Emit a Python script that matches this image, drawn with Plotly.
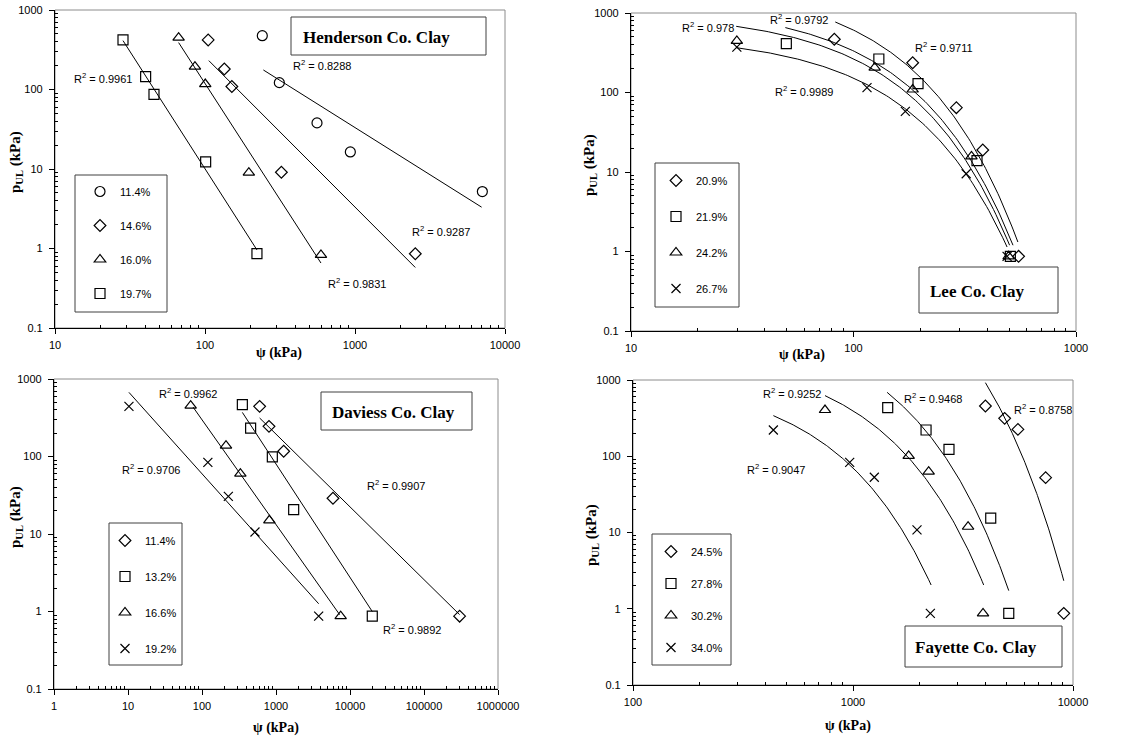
import numpy as np
import plotly.graph_objects as go

W, H = 1147, 740

# ---------------- data ----------------
# Henderson Co. Clay (power fits)
hen_labels = ["11.4%", "14.6%", "16.0%", "19.7%"]
hen_x = [[241, 313, 558, 931, 7063],
         [105, 134.5, 151, 323, 2523],
         [66.7, 85.7, 100.4, 196, 593],
         [28.4, 40.2, 45.7, 101, 222]]
hen_y = [[475, 122, 38, 16.4, 5.2],
         [420, 181, 109, 9.1, 0.86],
         [449, 194, 117, 9.0, 0.83],
         [420, 145, 87, 12.3, 0.86]]
hen_fit_a = [1.2e5, 1.553e6, 8.32e7, 7.93e6]
hen_fit_b = [-1.186, -1.890, -2.922, -2.948]
hen_fit_xmin = [245, 106, 66.7, 28.4]
hen_fit_xmax = [6985, 2523, 593, 222]
hen_r2 = ["0.8288", "0.9287", "0.9831", "0.9961"]

# Lee Co. Clay (exponential fits)
lee_labels = ["20.9%", "21.9%", "24.2%", "26.7%"]
lee_x = [[82, 184.5, 290, 381, 552],
         [49.9, 130, 195, 359, 507],
         [29.9, 124.5, 184.5, 339, 498],
         [29.9, 115, 171, 321, 490]]
lee_y = [[467, 237, 64.4, 18.9, 0.87],
         [411, 264, 129, 13.9, 0.87],
         [445, 205, 109, 15.7, 0.87],
         [373, 115, 58, 9.5, 0.87]]
lee_fit_a = [2398, 1268, 1012, 532]
lee_fit_b = [-0.0137, -0.013365, -0.013395, -0.012544]
lee_fit_xmin = [82.8, 49.4, 29.7, 29.7]
lee_fit_xmax = [548, 521, 503, 490]
lee_r2 = ["0.9711", "0.9792", "0.978", "0.9989"]

# Daviess Co. Clay (power fits)
dav_labels = ["11.4%", "13.2%", "16.6%", "19.2%"]
dav_x = [[601, 804, 1270, 5888, 303000],
         [351, 454, 892, 1733, 20000],
         [70.3, 211, 330, 813, 7480],
         [10.3, 120, 227, 520, 3773]]
dav_y = [[444, 245, 117, 28.9, 0.87],
         [467, 233, 98.6, 20.6, 0.87],
         [453, 138, 60, 15, 0.87],
         [444, 84, 30.6, 10.6, 0.87]]
dav_fit_a = [1.277e5, 1.968e6, 1.507e5, 8035]
dav_fit_b = [-0.939, -1.4635, -1.352, -1.0638]
dav_fit_xmin = [601, 351, 75.6, 10.3]
dav_fit_xmax = [303000, 20000, 7250, 3773]
dav_r2 = ["0.9907", "0.9892", "0.9962", "0.9706"]

# Fayette Co. Clay (exponential fits)
fay_labels = ["24.5%", "27.8%", "30.2%", "34.0%"]
fay_x = [[3998, 4890, 5620, 7510, 9080],
         [1438, 2148, 2731, 4227, 5105],
         [746, 1791, 2208, 3335, 3900],
         [434.5, 966, 1250, 1954, 2247]]
fay_y = [[456, 314, 225, 52.4, 0.87],
         [434, 221, 123, 15.4, 0.87],
         [404, 101, 62.8, 11.9, 0.87],
         [221, 83, 53, 10.8, 0.87]]
fay_fit_a = [102000, 7065, 2386, 1148]
fay_fit_b = [-0.001177, -0.001629, -0.001798, -0.002794]
fay_fit_xmin = [3998, 1429, 746, 434.5]
fay_fit_xmax = [9080, 5105, 3926, 2265]
fay_r2 = ["0.8758", "0.9468", "0.9252", "0.9047"]

y_tickvals = [0.1, 1, 10, 100, 1000]
y_ticktext = ["0.1", "1", "10", "100", "1000"]
hen_xticks = [10, 100, 1000, 10000]
lee_xticks = [10, 100, 1000]
dav_xticks = [1, 10, 100, 1000, 10000, 100000, 1000000]
fay_xticks = [100, 1000, 10000]

# ---------------- styling ----------------
SANS = "Liberation Sans"
SERIF = "Liberation Serif"
sym_cdtx = ["circle-open", "diamond-open", "triangle-up-open", "square-open"]
sym_dstx = ["diamond-open", "square-open", "triangle-up-open", "x-thin-open"]
sizes = {"circle-open": 10, "diamond-open": 9, "triangle-up-open": 10,
         "square-open": 10, "x-thin-open": 9}

# panel pixel boxes: left, right, top, bottom
panels = [
    dict(px=(55, 505, 10, 328), xr=[1, 4], xt=hen_xticks,
         X=hen_x, Y=hen_y, labels=hen_labels, syms=sym_cdtx, fit="pow",
         A=hen_fit_a, B=hen_fit_b, X0=hen_fit_xmin, X1=hen_fit_xmax),
    dict(px=(631, 1076, 13, 331), xr=[1, 3], xt=lee_xticks,
         X=lee_x, Y=lee_y, labels=lee_labels, syms=sym_dstx, fit="exp",
         A=lee_fit_a, B=lee_fit_b, X0=lee_fit_xmin, X1=lee_fit_xmax),
    dict(px=(54, 498, 379, 689), xr=[0, 6], xt=dav_xticks,
         X=dav_x, Y=dav_y, labels=dav_labels, syms=sym_dstx, fit="pow",
         A=dav_fit_a, B=dav_fit_b, X0=dav_fit_xmin, X1=dav_fit_xmax),
    dict(px=(633, 1073, 380, 685), xr=[2, 4], xt=fay_xticks,
         X=fay_x, Y=fay_y, labels=fay_labels, syms=sym_dstx, fit="exp",
         A=fay_fit_a, B=fay_fit_b, X0=fay_fit_xmin, X1=fay_fit_xmax),
]

def px2x(p):
    return p / W

def px2y(p):
    return 1 - p / H

fig = go.Figure()
layout = dict(width=W, height=H, margin=dict(l=0, r=0, t=0, b=0, autoexpand=False),
              paper_bgcolor="white", plot_bgcolor="white", showlegend=True,
              font=dict(family=SANS, size=11, color="black"))
shapes = []
annotations = []

legend_boxes = [(75, 175, 167, 312), (655, 163, 739, 307),
                (109, 523, 182, 665), (652, 534, 731, 665)]
legend_top = [177, 166, 526, 537]
legend_marker_x = [104, 680, 129, 675]
legend_gap = [34, 36, 36, 32]

for i, p in enumerate(panels):
    n = "" if i == 0 else str(i + 1)
    xa, ya = "x" + n, "y" + n
    lg = "legend" + n
    l, r, t, b = p["px"]
    for j in range(4):
        sym = p["syms"][j]
        fig.add_trace(go.Scatter(
            x=p["X"][j], y=p["Y"][j], mode="markers", name=p["labels"][j],
            xaxis=xa, yaxis=ya, legend=lg, legendgroup=f"p{i}s{j}",
            marker=dict(symbol=sym, size=sizes[sym], color="black",
                        line=dict(color="black", width=1.2)),
            hoverinfo="x+y"))
    for j in range(4):
        x0, x1 = p["X0"][j], p["X1"][j]
        xs = np.geomspace(x0, x1, 120)
        if p["fit"] == "pow":
            ys = p["A"][j] * xs ** p["B"][j]
        else:
            ys = p["A"][j] * np.exp(p["B"][j] * xs)
        fig.add_trace(go.Scatter(
            x=xs, y=ys, mode="lines", xaxis=xa, yaxis=ya, showlegend=False,
            line=dict(color="black", width=1), hoverinfo="skip"))

    lo, hi = p["xr"]
    xminor = [k * 10 ** d for d in range(lo, hi) for k in range(2, 10)]
    yminor = [k * 10 ** d for d in range(-1, 3) for k in range(2, 10)]
    layout["xaxis" + n] = dict(
        type="log", range=p["xr"], domain=[px2x(l), px2x(r)], anchor=ya,
        tickmode="array", tickvals=p["xt"], ticktext=[str(v) for v in p["xt"]],
        ticks="outside", ticklen=5, tickcolor="black", showgrid=False,
        showline=True, linecolor="black", linewidth=1.2, zeroline=False,
        ticklabelstandoff=2,
        tickfont=dict(family=SANS, size=11, color="black"),
        minor=dict(tickmode="array", tickvals=xminor, ticks="inside",
                   ticklen=3, tickcolor="black", showgrid=False))
    layout["yaxis" + n] = dict(
        type="log", range=[-1, 3], domain=[px2y(b), px2y(t)], anchor=xa,
        tickmode="array", tickvals=y_tickvals, ticktext=y_ticktext,
        ticks="outside", ticklen=5, tickcolor="black", showgrid=False,
        showline=True, linecolor="black", linewidth=1.2, zeroline=False,
        ticklabelstandoff=4,
        tickfont=dict(family=SANS, size=11, color="black"),
        minor=dict(tickmode="array", tickvals=yminor, ticks="inside",
                   ticklen=3, tickcolor="black", showgrid=False))
    # frame (top/right grey)
    shapes.append(dict(type="rect", xref=xa + " domain", yref=ya + " domain",
                       x0=0, x1=1, y0=0, y1=1, layer="below",
                       line=dict(color="#8c8c8c", width=1)))
    # legend box and legend
    bl, bt, br, bb = legend_boxes[i]
    shapes.append(dict(type="rect", xref="paper", yref="paper",
                       x0=px2x(bl), x1=px2x(br), y0=px2y(bb), y1=px2y(bt),
                       line=dict(color="#404040", width=1)))
    layout[lg] = dict(x=px2x(legend_marker_x[i] - 24),
                      y=px2y(legend_top[i]),
                      xanchor="left", yanchor="top", bgcolor="rgba(0,0,0,0)",
                      borderwidth=0, tracegroupgap=legend_gap[i] - 19,
                      font=dict(family=SANS, size=11, color="black"),
                      itemwidth=30)

# title boxes
title_boxes = [("Henderson Co. Clay", (291, 17, 486, 55), 301),
               ("Lee Co. Clay", (919, 267, 1058, 313), 928),
               ("Daviess Co. Clay", (321, 392, 472, 430), 330),
               ("Fayette Co. Clay", (905, 626, 1062, 667), 913)]
for txt, (bl, bt, br, bb), tx in title_boxes:
    shapes.append(dict(type="rect", xref="paper", yref="paper",
                       x0=px2x(bl), x1=px2x(br), y0=px2y(bb), y1=px2y(bt),
                       line=dict(color="#404040", width=1), fillcolor="white",
                       layer="above"))
    annotations.append(dict(text="<b>" + txt + "</b>", xref="paper", yref="paper",
                            x=px2x(tx), y=px2y((bt + bb) / 2 + 1),
                            xanchor="left", yanchor="middle", showarrow=False,
                            font=dict(family=SERIF, size=17, color="black")))

# R² labels
r2_pos = [
    [(322, 65), (441, 231), (357, 283), (103, 78)],
    [(944, 47), (799, 19), (708, 27), (804, 91)],
    [(396, 485), (412, 629), (188, 393), (151, 469)],
    [(1043, 409), (933, 398), (792, 393), (776, 469)],
]
r2_vals = [hen_r2, lee_r2, dav_r2, fay_r2]
for i in range(4):
    for j in range(4):
        cx, cy = r2_pos[i][j]
        annotations.append(dict(text="R<sup>2</sup> = " + r2_vals[i][j],
                                xref="paper", yref="paper", x=px2x(cx), y=px2y(cy),
                                xanchor="center", yanchor="middle", showarrow=False,
                                font=dict(family=SANS, size=11, color="black")))

# axis titles
xt_pos = [(279, 353), (802, 355), (276, 728), (848, 726)]
yt_pos = [(16, 162), (590, 165), (16, 517), (592, 535)]
for (cx, cy) in xt_pos:
    annotations.append(dict(text="<b>ψ (kPa)</b>", xref="paper", yref="paper",
                            x=px2x(cx), y=px2y(cy), xanchor="center", yanchor="middle",
                            showarrow=False, font=dict(family=SERIF, size=14, color="black")))
for (cx, cy) in yt_pos:
    annotations.append(dict(text="<b>p<sub>UL</sub> (kPa)</b>", xref="paper", yref="paper",
                            x=px2x(cx), y=px2y(cy), xanchor="center", yanchor="middle",
                            textangle=-90, showarrow=False,
                            font=dict(family=SERIF, size=15, color="black")))

layout["shapes"] = shapes
layout["annotations"] = annotations
fig.update_layout(**layout)
fig.write_html("out.html")
